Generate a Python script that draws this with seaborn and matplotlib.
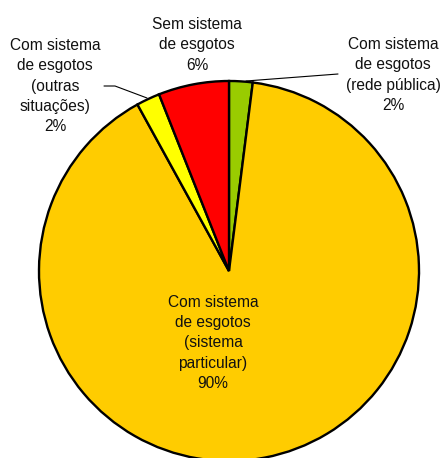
import matplotlib
matplotlib.use("Agg")
import matplotlib.pyplot as plt
import seaborn as sns

sns.set_theme(style="white")
plt.rcParams["font.family"] = ["Liberation Sans", "DejaVu Sans"]

# Slices in clockwise order starting at 12 o'clock
categories = [
    "Com sistema\nde esgotos\n(rede pública)",
    "Com sistema\nde esgotos\n(sistema\nparticular)",
    "Com sistema\nde esgotos\n(outras\nsituações)",
    "Sem sistema\nde esgotos",
]
percentages = [2, 90, 2, 6]
colors = ["#99CC00", "#FFCC00", "#FFFF00", "#FF0000"]

W, H = 443, 458
fig = plt.figure(figsize=(W / 100, H / 100), dpi=100)
ax = fig.add_axes([0, 0, 1, 1])

cx, cy, r = 229, H - 271, 190
ax.pie(percentages, colors=colors, startangle=90, counterclock=False,
       center=(cx, cy), radius=r, frame=True,
       wedgeprops=dict(edgecolor="black", linewidth=1.7))
ax.set_xlim(0, W)
ax.set_ylim(0, H)
ax.set_aspect("equal")
ax.axis("off")

def label(i):
    return f"{categories[i]}\n{percentages[i]}%"

fs = 11.2
ls = 1.42
# label centres (pixels from top-left)
pos = {0: (393, 75), 1: (213, 343), 2: (55, 86), 3: (197, 45)}
for i, (x, y) in pos.items():
    ax.text(x, H - y, label(i), ha="center", va="center", fontsize=fs,
            linespacing=ls, color="#111111")

# leader lines
ax.plot([338, 246], [H - 74, H - 81], color="black", lw=0.8)
ax.plot([104, 115, 147], [H - 86, H - 86, H - 98], color="black", lw=0.8)

fig.savefig("out.png", dpi=100)
